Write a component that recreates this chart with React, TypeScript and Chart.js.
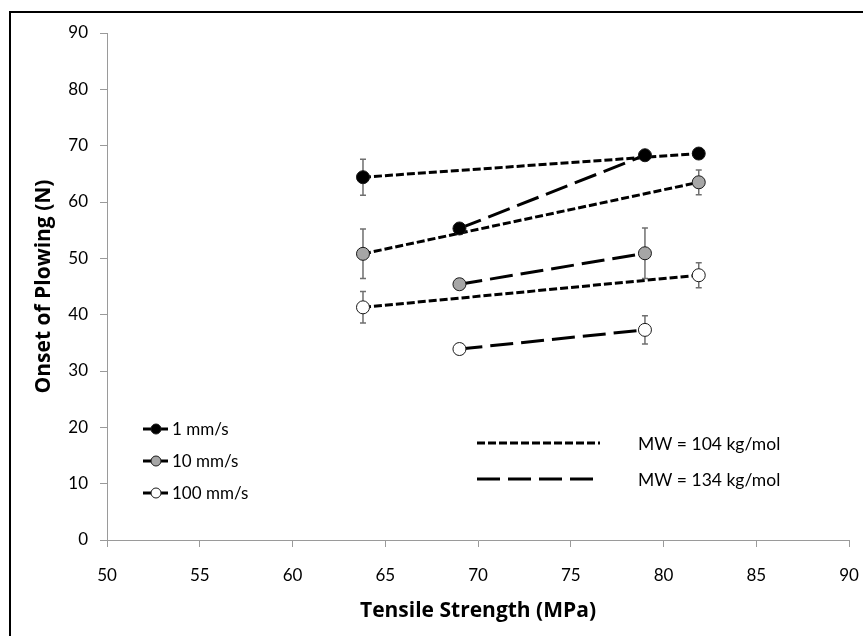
import React, { useEffect, useRef } from 'react';
import { Chart, registerables } from 'chart.js';

Chart.register(...registerables);

// ---- data ----
const speedLabels = ['1 mm/s', '10 mm/s', '100 mm/s'];
const speedFills = ['#000000', '#a6a6a6', '#ffffff'];
const mwLabels = ['MW = 104 kg/mol', 'MW = 134 kg/mol'];

const x104 = [63.8, 81.9];
const x134 = [69.0, 79.0];

const y104_1 = [64.4, 68.6];
const y104_10 = [50.8, 63.5];
const y104_100 = [41.3, 47.0];
const err104_1 = [3.2, 0.4];
const err104_10 = [4.4, 2.2];
const err104_100 = [2.8, 2.2];

const y134_1 = [55.3, 68.3];
const y134_10 = [45.4, 50.9];
const y134_100 = [33.9, 37.3];
const err134_1 = [0.5, 0.5];
const err134_10 = [0.8, 4.5];
const err134_100 = [0.6, 2.5];

const xMin = 50, xMax = 90, xStep = 5;
const yMin = 0, yMax = 90, yStep = 10;

const FONT = 'Lato, "Open Sans", sans-serif';
const TITLE_FONT = '"Open Sans", Lato, sans-serif';
const SHORT_DASH = [8, 3];
const LONG_DASH = [23, 8];

const series = [
  { xs: x104, ys: y104_1, errs: err104_1, speed: 0, dash: SHORT_DASH },
  { xs: x104, ys: y104_10, errs: err104_10, speed: 1, dash: SHORT_DASH },
  { xs: x104, ys: y104_100, errs: err104_100, speed: 2, dash: SHORT_DASH },
  { xs: x134, ys: y134_1, errs: err134_1, speed: 0, dash: LONG_DASH },
  { xs: x134, ys: y134_10, errs: err134_10, speed: 1, dash: LONG_DASH },
  { xs: x134, ys: y134_100, errs: err134_100, speed: 2, dash: LONG_DASH },
];

const W = 863, H = 636;

export default function App() {
  const ref = useRef<HTMLCanvasElement | null>(null);

  useEffect(() => {
    const canvas = ref.current;
    if (!canvas) return;

    const toPts = (xs: number[], ys: number[]) => xs.map((x, i) => ({ x, y: ys[i] }));

    const lineSets = series.map((s) => ({
      label: '',
      data: toPts(s.xs, s.ys),
      showLine: true,
      borderColor: '#000000',
      borderWidth: 3,
      borderDash: s.dash,
      pointRadius: 0,
      order: 2,
    }));
    const pointSets = series.map((s) => ({
      label: speedLabels[s.speed],
      data: toPts(s.xs, s.ys),
      showLine: false,
      pointRadius: 6.5,
      pointBackgroundColor: speedFills[s.speed],
      pointBorderColor: '#1a1a1a',
      pointBorderWidth: 1,
      order: 1,
    }));

    const framePlugin = {
      id: 'frame',
      beforeDraw(chart: any) {
        const ctx = chart.ctx;
        ctx.save();
        ctx.fillStyle = '#ffffff';
        ctx.fillRect(0, 0, chart.width, chart.height);
        ctx.fillStyle = '#000000';
        ctx.fillRect(9, 11, chart.width, 2);
        ctx.fillRect(9, 11, 2, chart.height);
        ctx.restore();
      },
    };

    const errorPlugin = {
      id: 'errorBars',
      beforeDatasetsDraw(chart: any) {
        const ctx = chart.ctx;
        const xs = chart.scales.x, ys = chart.scales.y;
        ctx.save();
        ctx.strokeStyle = '#6f6f6f';
        ctx.lineWidth = 1.5;
        series.forEach((s) => {
          s.xs.forEach((xv, i) => {
            const e = s.errs[i];
            const px = xs.getPixelForValue(xv);
            const top = ys.getPixelForValue(s.ys[i] + e);
            const bot = ys.getPixelForValue(s.ys[i] - e);
            ctx.beginPath();
            ctx.moveTo(px, top); ctx.lineTo(px, bot);
            ctx.moveTo(px - 3, top); ctx.lineTo(px + 3, top);
            ctx.moveTo(px - 3, bot); ctx.lineTo(px + 3, bot);
            ctx.stroke();
          });
        });
        ctx.restore();
      },
    };

    const legendPlugin = {
      id: 'customLegend',
      afterDraw(chart: any) {
        const ctx = chart.ctx;
        ctx.save();
        ctx.font = `17px ${FONT}`;
        ctx.textBaseline = 'middle';
        ctx.textAlign = 'left';
        speedLabels.forEach((lab, i) => {
          const y = 429 + 32 * i;
          ctx.strokeStyle = '#000';
          ctx.lineWidth = 3;
          ctx.setLineDash([]);
          ctx.beginPath();
          ctx.moveTo(143, y); ctx.lineTo(168, y);
          ctx.stroke();
          ctx.beginPath();
          ctx.arc(156, y, 5, 0, Math.PI * 2);
          ctx.fillStyle = speedFills[i];
          ctx.fill();
          ctx.lineWidth = 1;
          ctx.strokeStyle = '#1a1a1a';
          ctx.stroke();
          ctx.fillStyle = '#000';
          ctx.fillText(lab, 172, y + 1);
        });
        const dashes = [SHORT_DASH, LONG_DASH];
        const ends = [600, 594];
        ctx.font = `17.5px ${FONT}`;
        mwLabels.forEach((lab, i) => {
          const y = 443 + 36 * i;
          ctx.strokeStyle = '#000';
          ctx.lineWidth = 3;
          ctx.setLineDash(dashes[i]);
          ctx.beginPath();
          ctx.moveTo(477, y); ctx.lineTo(ends[i], y);
          ctx.stroke();
          ctx.setLineDash([]);
          ctx.fillStyle = '#000';
          ctx.fillText(lab, 638, y + 1);
        });
        ctx.restore();
      },
    };

    const axisCommon = {
      border: { display: true, color: '#9a9a9a', width: 1 },
      grid: { display: true, drawOnChartArea: false, drawTicks: true, tickLength: 7, color: '#9a9a9a' },
    };

    const chart = new Chart(canvas, {
      type: 'scatter',
      data: { datasets: [...lineSets, ...pointSets] as any },
      options: {
        responsive: false,
        animation: false,
        devicePixelRatio: 1,
        layout: { padding: { top: 33, right: 14, left: 0, bottom: 0 } },
        plugins: { legend: { display: false }, tooltip: { enabled: false } },
        scales: {
          x: {
            type: 'linear',
            min: xMin, max: xMax,
            ...axisCommon,
            ticks: { stepSize: xStep, color: '#000', padding: 18, maxRotation: 0, font: { family: FONT, size: 17 } },
            title: {
              display: true, text: 'Tensile Strength (MPa)', color: '#000',
              font: { family: TITLE_FONT, size: 21, weight: 'bold' },
              padding: { top: 0, bottom: 12 },
            },
            afterFit(scale: any) {
              scale.height = 96;
              scale.paddingLeft = 0;
              scale.paddingRight = 0;
            },
          },
          y: {
            type: 'linear',
            min: yMin, max: yMax,
            ...axisCommon,
            ticks: { stepSize: yStep, color: '#000', padding: 12, font: { family: FONT, size: 17 } },
            title: {
              display: true, text: 'Onset of Plowing (N)', color: '#000',
              font: { family: TITLE_FONT, size: 21, weight: 'bold' },
              padding: { top: 31, bottom: 0 },
            },
            afterFit(scale: any) {
              scale.width = 107;
              scale.paddingTop = 0;
              scale.paddingBottom = 0;
            },
          },
        },
      } as any,
      plugins: [framePlugin, errorPlugin, legendPlugin],
    });

    return () => chart.destroy();
  }, []);

  return (
    <div style={{ position: 'absolute', left: 0, top: 0, width: W, height: H, background: '#fff' }}>
      <canvas ref={ref} width={W} height={H} style={{ width: W, height: H, display: 'block' }} />
    </div>
  );
}
